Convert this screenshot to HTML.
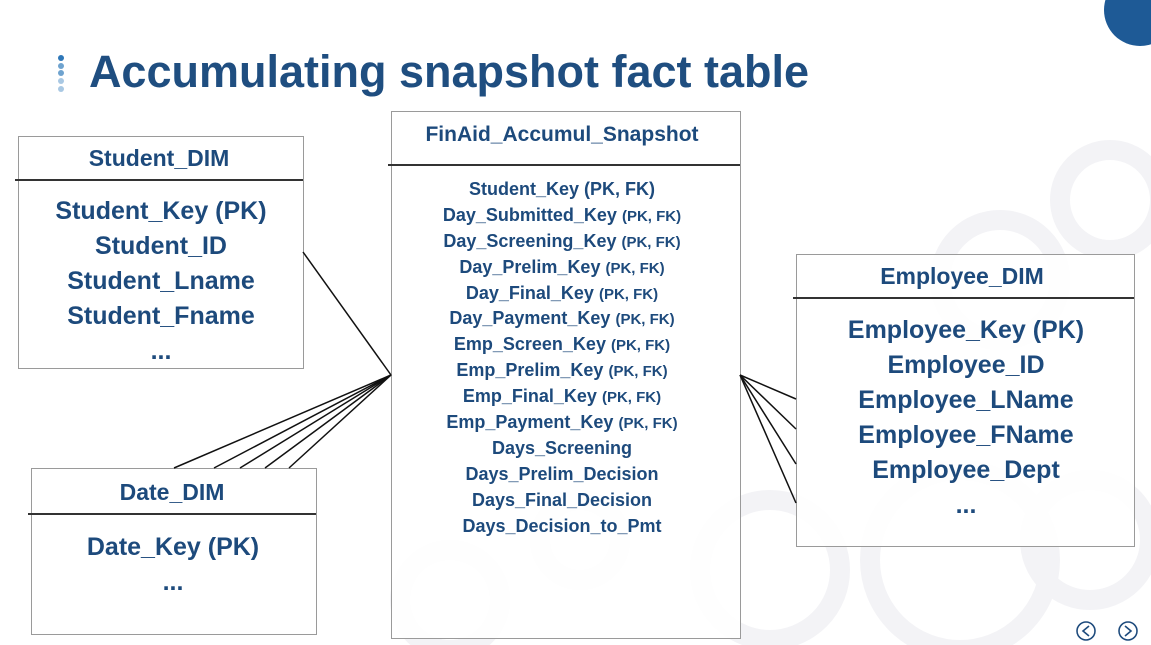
<!DOCTYPE html>
<html><head><meta charset="utf-8"><style>
body{margin:0;width:1151px;height:645px;overflow:hidden;background:#fff;position:relative;font-family:"Liberation Sans",sans-serif;font-weight:bold;color:#1d4a7c}
.box{position:absolute;border:1px solid #9a9a9a;background:rgba(255,255,255,0.85)}
.hl{position:absolute;height:2px;background:#333}
.t{position:absolute;white-space:nowrap;text-align:center;transform:translateX(-50%)}
.f div{height:25.9px;line-height:25.9px}
.s{font-size:15px;line-height:10px}
</style></head><body>
<svg style="position:absolute;left:0;top:0" width="1151" height="645">
<g fill="none" stroke="#f3f3f6" stroke-width="20">
<circle cx="1110" cy="200" r="50"/><circle cx="1000" cy="280" r="60"/>
<circle cx="960" cy="560" r="90"/><circle cx="1090" cy="540" r="60"/>
<circle cx="770" cy="570" r="70"/><circle cx="580" cy="540" r="40"/>
<circle cx="450" cy="600" r="50"/>
</g>
<circle cx="1140" cy="10" r="36" fill="#1e5a96"/>
<g fill="#2e77b8"><circle cx="61" cy="58" r="3"/></g>
<g fill="#6fa3cf"><circle cx="61" cy="66" r="3"/><circle cx="61" cy="73" r="3"/></g>
<g fill="#a9c8e3"><circle cx="61" cy="81" r="3"/><circle cx="61" cy="89" r="3"/></g>
<g fill="none" stroke="#1d4a7c" stroke-width="1.6"><circle cx="1086" cy="631" r="9"/><circle cx="1128" cy="631" r="9"/>
<path d="M1089 626 L1083 631 L1089 636 M1125 626 L1131 631 L1125 636"/></g>
</svg>
<div class="t" style="left:449px;top:46px;font-size:45px;color:#1f4e80">Accumulating snapshot fact table</div>

<div class="box" style="left:18px;top:136px;width:284px;height:231px"></div>
<div class="hl" style="left:15px;top:179px;width:288px"></div>
<div class="t" style="left:159px;top:145px;font-size:23px">Student_DIM</div>
<div class="t" style="left:161px;top:194px;font-size:25px;line-height:35px">Student_Key (PK)<br>Student_ID<br>Student_Lname<br>Student_Fname<br>...</div>

<div class="box" style="left:31px;top:468px;width:284px;height:165px"></div>
<div class="hl" style="left:28px;top:513px;width:288px"></div>
<div class="t" style="left:172px;top:479px;font-size:23px">Date_DIM</div>
<div class="t" style="left:173px;top:530px;font-size:25px;line-height:35px">Date_Key (PK)<br>...</div>

<div class="box" style="left:391px;top:111px;width:348px;height:526px"></div>
<div class="hl" style="left:388px;top:164px;width:352px"></div>
<div class="t" style="left:562px;top:123px;font-size:21px">FinAid_Accumul_Snapshot</div>
<div class="t f" style="left:562px;top:177px;font-size:18px"><div>Student_Key (PK, FK)</div><div>Day_Submitted_Key <span class="s">(PK, FK)</span></div><div>Day_Screening_Key <span class="s">(PK, FK)</span></div><div>Day_Prelim_Key <span class="s">(PK, FK)</span></div><div>Day_Final_Key <span class="s">(PK, FK)</span></div><div>Day_Payment_Key <span class="s">(PK, FK)</span></div><div>Emp_Screen_Key <span class="s">(PK, FK)</span></div><div>Emp_Prelim_Key <span class="s">(PK, FK)</span></div><div>Emp_Final_Key <span class="s">(PK, FK)</span></div><div>Emp_Payment_Key <span class="s">(PK, FK)</span></div><div>Days_Screening</div><div>Days_Prelim_Decision</div><div>Days_Final_Decision</div><div>Days_Decision_to_Pmt</div></div>

<div class="box" style="left:796px;top:254px;width:337px;height:291px"></div>
<div class="hl" style="left:793px;top:297px;width:341px"></div>
<div class="t" style="left:962px;top:263px;font-size:23px">Employee_DIM</div>
<div class="t" style="left:966px;top:313px;font-size:25px;line-height:35px">Employee_Key (PK)<br>Employee_ID<br>Employee_LName<br>Employee_FName<br>Employee_Dept<br>...</div>

<svg style="position:absolute;left:0;top:0" width="1151" height="645">
<g stroke="#111" stroke-width="1.5">
<line x1="303" y1="252" x2="391" y2="375"/>
<line x1="174" y1="468" x2="391" y2="375"/><line x1="214" y1="468" x2="391" y2="375"/>
<line x1="240" y1="468" x2="391" y2="375"/><line x1="265" y1="468" x2="391" y2="375"/>
<line x1="289" y1="468" x2="391" y2="375"/>
<line x1="740" y1="375" x2="796" y2="399"/><line x1="740" y1="375" x2="796" y2="429"/>
<line x1="740" y1="375" x2="796" y2="464"/><line x1="740" y1="375" x2="796" y2="503"/>
</g></svg>
</body></html>
